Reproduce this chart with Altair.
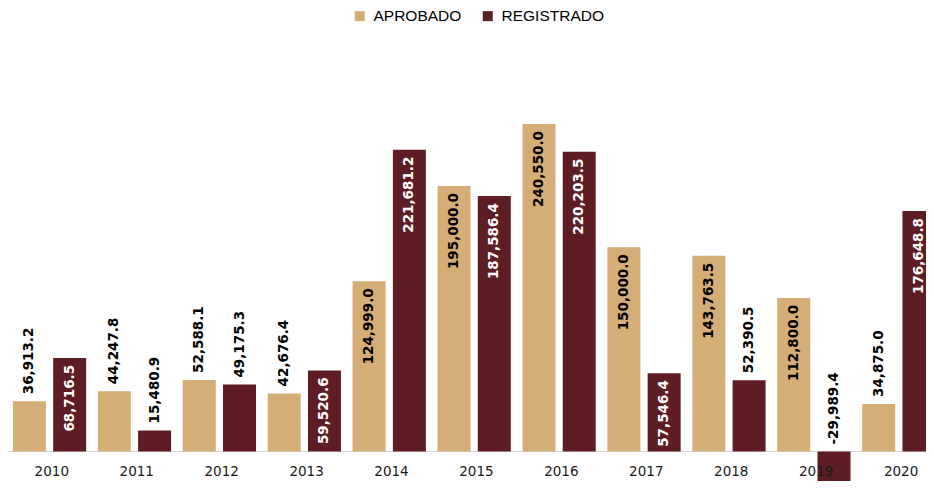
import altair as alt
import pandas as pd

years = list(range(2010, 2021))
aprobado = [36913.2, 44247.8, 52588.1, 42676.4, 124999.0, 195000.0,
            240550.0, 150000.0, 143763.5, 112800.0, 34875.0]
registrado = [68716.5, 15480.9, 49175.3, 59520.6, 221681.2, 187586.4,
              220203.5, 57546.4, 52390.5, -29989.4, 176648.8]
series = ["APROBADO", "REGISTRADO"]
colors = ["#D5AD76", "#5E1D23"]

rows = []
for y, a, r in zip(years, aprobado, registrado):
    rows.append({"year": y, "serie": "APROBADO", "v": a})
    rows.append({"year": y, "serie": "REGISTRADO", "v": r})
df = pd.DataFrame(rows)
ydf = pd.DataFrame({"year": [str(y) for y in years], "yn": years})

xscale = alt.Scale(domain=[2009.508, 2020.317], nice=False, zero=False, padding=0)
yscale = alt.Scale(domain=[-21667, 325744], nice=False, zero=False, padding=0)

base = alt.Chart(df).transform_calculate(
    xp="datum.serie == 'APROBADO' ? datum.year - 0.24 : datum.year + 0.234",
    lab="replace(format(datum.v, ',.1f'), '\u2212', '-')",
    ypos="max(datum.v, 0)",
    zero="0",
    tcol="datum.serie == 'REGISTRADO' && datum.v > 55000 ? 'white' : 'black'",
)

bars = base.mark_bar(size=33, clip=True).encode(
    x=alt.X("xp:Q", scale=xscale, axis=None),
    y=alt.Y("v:Q", scale=yscale, axis=None),
    y2="zero:Q",
    color=alt.Color(
        "serie:N",
        scale=alt.Scale(domain=series, range=colors),
        legend=alt.Legend(
            orient="none", legendX=344, legendY=0, direction="horizontal",
            title=None, symbolType="square", symbolSize=100,
            symbolStrokeWidth=0, labelFont="Liberation Sans",
            labelFontSize=15.5, labelColor="black", labelOffset=6,
            columnPadding=18,
        ),
    ),
)

txt_style = dict(angle=270, baseline="middle", font="DejaVu Sans",
                 fontWeight="bold", fontSize=13.5)

inside = base.transform_filter("datum.v > 55000").mark_text(
    align="right", dx=-7, **txt_style
).encode(
    x=alt.X("xp:Q", scale=xscale, axis=None),
    y=alt.Y("v:Q", scale=yscale, axis=None),
    text="lab:N",
    color=alt.Color("tcol:N", scale=None),
)

outside = base.transform_filter("datum.v <= 55000").mark_text(
    align="left", dx=7, color="black", **txt_style
).encode(
    x=alt.X("xp:Q", scale=xscale, axis=None),
    y=alt.Y("ypos:Q", scale=yscale, axis=None),
    text="lab:N",
)

rule = alt.Chart(ydf).transform_calculate(zero="0").mark_rule(
    color="#d9d9d9", strokeWidth=1
).encode(
    y=alt.Y("zero:Q", scale=yscale, axis=None)
)

year_labels = alt.Chart(ydf).transform_calculate(zero="0").mark_text(
    dy=20, dx=2, baseline="middle", font="DejaVu Sans", fontSize=13.5,
    color="#1a1a1a"
).encode(
    x=alt.X("yn:Q", scale=xscale, axis=None),
    y=alt.Y("zero:Q", scale=yscale, axis=None),
    text="year:N",
)

chart = alt.layer(rule, bars, inside, outside, year_labels).properties(
    width=918, height=473,
    padding={"left": 0, "top": 0, "right": 0, "bottom": 0},
    autosize=alt.AutoSizeParams(type="none", contains="content"),
).configure_view(stroke=None)

chart.save("out.html", embed_options={"renderer": "svg", "actions": False})
